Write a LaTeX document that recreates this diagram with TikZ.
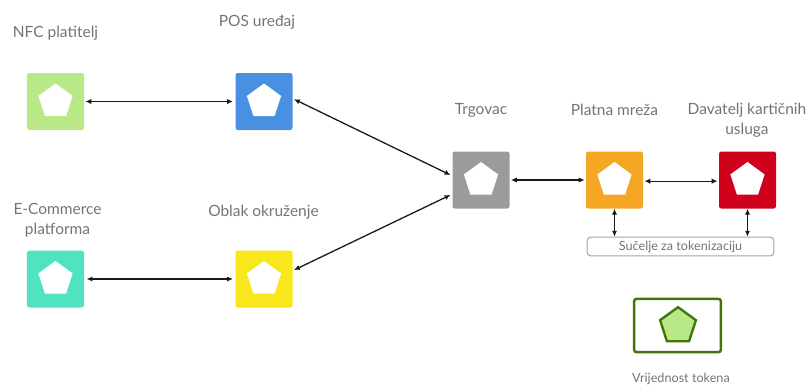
\documentclass[tikz,border=0pt]{standalone}
\usepackage{fontspec}
\setmainfont{Lato}
\usepackage{xcolor}
\usetikzlibrary{shapes.geometric,arrows.meta}
\definecolor{nfcgreen}{HTML}{B8E986}
\definecolor{posblue}{HTML}{4A90E2}
\definecolor{shopgray}{HTML}{9B9B9B}
\definecolor{netorange}{HTML}{F5A623}
\definecolor{issuerred}{HTML}{D0021B}
\definecolor{shopteal}{HTML}{50E3C2}
\definecolor{cloudyellow}{HTML}{F8E71C}
\definecolor{tokengreen}{HTML}{417505}
\definecolor{labelgray}{HTML}{747474}
\tikzset{
    partybox/.style={minimum size=1.71cm, inner sep=0pt, rounded corners=2pt},
    penta/.style={regular polygon, regular polygon sides=5, minimum size=1.08cm, inner sep=0pt, fill=white},
    partylabel/.style={text=labelgray, font=\fontsize{13.2}{17}\selectfont, align=center, inner sep=0pt},
    smalllabel/.style={text=labelgray, font=\fontsize{10.8}{12}\selectfont, inner sep=0pt},
    link/.style={{Latex[length=5pt,width=4.5pt]}-{Latex[length=5pt,width=4.5pt]}, line width=1.1pt, black!90},
}
\begin{document}
\begin{tikzpicture}[x=0.03cm, y=-0.03cm]
\useasboundingbox (0,0) rectangle (808,385);

% ===== party boxes =====
\foreach \name/\col/\x/\y in {nfc/nfcgreen/55.5/101.5, pos/posblue/264/101.5, ecom/shopteal/55.5/279,
    cloud/cloudyellow/264/279, shop/shopgray/481/180, net/netorange/614.5/180, issuer/issuerred/747.5/180} {
    \node[partybox, fill=\col] (\name) at (\x,\y) {};
    \node[penta] (\name-p) at (\x,\y) {};
}

% ===== labels =====
\node[partylabel] (nfc-l) at (55.5,33) {NFC platitelj};
\node[partylabel] (pos-l) at (257,22) {POS uređaj};
\node[partylabel] (ecom-l) at (57.5,220) {E-Commerce\\platforma};
\node[partylabel] (cloud-l) at (263.5,212) {Oblak okruženje};
\node[partylabel] (shop-l) at (481,110) {Trgovac};
\node[partylabel] (net-l) at (614.5,110) {Platna mreža};
\node[partylabel] (issuer-l) at (747,120) {Davatelj kartičnih\\usluga};

% ===== tokenization =====
\node[draw=black!35, line width=0.9pt, rounded corners=3pt, minimum width=5.6cm, minimum height=0.56cm,
    inner sep=0pt, smalllabel] (api) at (680.5,246.5) {Sučelje za tokenizaciju};

\node[draw=tokengreen, line width=2.1pt, rounded corners=2pt, minimum width=2.6cm, minimum height=1.6cm,
    inner sep=0pt] (token) at (677.5,325.5) {};
\node[penta, fill=nfcgreen, draw=tokengreen, line width=2pt, minimum size=1.13cm] (token-p) at (678,326) {};
\node[smalllabel] (token-l) at (681,379) {Vrijednost tokena};

% ===== connectors =====
\draw[link] ([xshift=1pt]nfc.east) -- ([xshift=-2pt]pos.west);
\draw[link] ([xshift=2pt]ecom.east) -- ([xshift=-2pt]cloud.west);
\draw[link] ([xshift=1pt,yshift=2pt]pos.east) -- ([xshift=-1.5pt,yshift=4.25pt]shop.west);
\draw[link] ([xshift=1pt,yshift=7.6pt]cloud.east) -- ([xshift=-1.5pt,yshift=-12.75pt]shop.west);
\draw[link] ([xshift=1pt]shop.east) -- ([xshift=-1pt]net.west);
\draw[link] ([xshift=1pt,yshift=-1pt]net.east) -- ([xshift=-1pt,yshift=-1pt]issuer.west);
\draw[link] (net.south) -- (net.south |- api.north);
\draw[link] (issuer.south) -- (issuer.south |- api.north);

\end{tikzpicture}
\end{document}
